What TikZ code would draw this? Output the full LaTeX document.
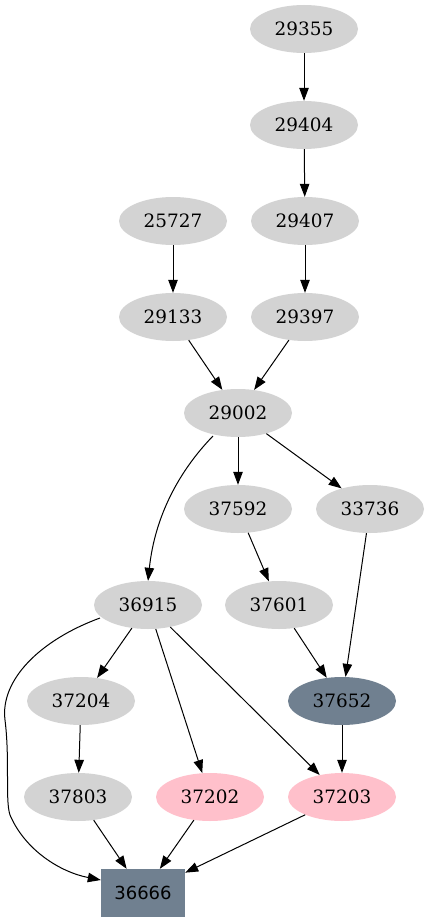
\documentclass[tikz,border=0pt]{standalone}
\usepackage{fontspec}
\setmainfont{DejaVu Serif}
\newfontfamily\boxfont{DejaVu Sans}
\usetikzlibrary{shapes.geometric,arrows.meta}
\definecolor{lgray}{HTML}{D3D3D3}
\definecolor{pinkc}{HTML}{FFC0CB}
\definecolor{slate}{HTML}{708090}
\begin{document}
\begin{tikzpicture}[x=1pt,y=-1pt,
  nd/.style={ellipse,fill=lgray,minimum width=108pt,minimum height=48pt,inner sep=0pt,font=\fontsize{18.4}{20}\selectfont},
  pk/.style={nd,fill=pinkc},
  sl/.style={nd,fill=slate},
  bx/.style={rectangle,fill=slate,minimum width=84pt,minimum height=48pt,inner sep=0pt,font=\boxfont\fontsize{18}{20}\selectfont},
  ar/.style={-{Triangle[length=13pt,width=9.5pt]},line width=1pt}]
\useasboundingbox (0,0) rectangle (429,923);
\node[nd] (n29355) at (304,29) {29355};
\node[nd] (n29404) at (304,125) {29404};
\node[nd] (n25727) at (173,221) {25727};
\node[nd] (n29407) at (305,221) {29407};
\node[nd] (n29133) at (173,317) {29133};
\node[nd] (n29397) at (305,317) {29397};
\node[nd] (n29002) at (238,413) {29002};
\node[nd] (n37592) at (238,509) {37592};
\node[nd] (n33736) at (370,509) {33736};
\node[nd] (n36915) at (148,605) {36915};
\node[nd] (n37601) at (279,605) {37601};
\node[nd] (n37204) at (81,701) {37204};
\node[sl] (n37652) at (342,701) {37652};
\node[nd] (n37803) at (78,797) {37803};
\node[pk] (n37202) at (210,797) {37202};
\node[pk] (n37203) at (342,797) {37203};
\node[bx] (n36666) at (143,893) {36666};
\draw[ar] (n29355) -- (n29404);
\draw[ar] (n29404) -- (n29407);
\draw[ar] (n29407) -- (n29397);
\draw[ar] (n25727) -- (n29133);
\draw[ar] (n29133) -- (n29002);
\draw[ar] (n29397) -- (n29002);
\draw[ar] (n29002) -- (n37592);
\draw[ar] (n29002) -- (n33736);
\draw[ar] (n29002) ++(-25,23) .. controls (180,470) and (155,515) .. (n36915.north);
\draw[ar] (n37592) -- (n37601);
\draw[ar] (n37601) -- (n37652);
\draw[ar] (n33736) -- (n37652);
\draw[ar] (n37652) -- (n37203);
\draw[ar] (n36915) -- (n37204);
\draw[ar] (n36915) -- (n37202);
\draw[ar] (n36915) -- (n37203);
\draw[ar] (n37204) -- (n37803);
\draw[ar] (n37803) -- (n36666);
\draw[ar] (n37202) -- (n36666);
\draw[ar] (n37203) -- (n36666);
\draw[ar] (n36915) ++(-48,13) .. controls (40,640) and (0,680) .. (5,720)
  .. controls (10,760) and (5,800) .. (10,815)
  .. controls (25,850) and (60,872) .. (n36666.west |- 0,880);
\end{tikzpicture}
\end{document}
